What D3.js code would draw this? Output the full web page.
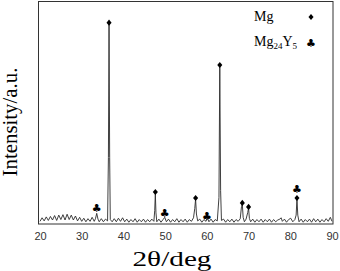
<!DOCTYPE html>
<html>
<head>
    <script src="https://d3js.org/d3.v7.min.js"></script>
    <style>
        body { margin: 0; background: #fff; }
        .tick text { font-family: Arial, "Liberation Sans"; fill: #333; }
    </style>
</head>
<body>
<div id="chart"></div>
<script>
// 2theta positions and intensities (arbitrary units)
const twoTheta = [20, 20.5, 21, 21.5, 22, 22.5, 23, 23.5, 24, 24.5, 25, 25.5, 26, 26.5, 27, 27.5, 28, 28.5, 29, 29.5,
    30, 30.5, 31, 31.5, 32, 32.5, 33, 33.3, 33.6, 33.9, 34.2, 34.7, 35.2, 35.7, 36.2, 36.4, 36.55, 36.7, 36.85,
    37.3, 37.8, 38.3, 38.8, 39.3, 39.8, 40.3, 40.8, 41.3, 41.8, 42.3, 42.8, 43.3, 43.8, 44.3, 44.8, 45.3, 45.8,
    46.3, 46.8, 47.3, 47.5, 47.65, 47.8, 48.0, 48.5, 49.0, 49.5, 49.9, 50.3, 50.8, 51.3, 51.8, 52.3, 52.8, 53.3,
    53.8, 54.3, 54.8, 55.3, 55.8, 56.3, 56.8, 57.1, 57.3, 57.5, 57.8, 58.3, 58.8, 59.3, 59.8, 60.1, 60.5, 61.0,
    61.5, 62.0, 62.5, 62.9, 63.1, 63.3, 63.5, 64.0, 64.5, 65.0, 65.5, 66.0, 66.5, 67.0, 67.5, 68.0, 68.3, 68.5,
    68.7, 69.0, 69.4, 69.8, 70.0, 70.2, 70.5, 71.0, 71.5, 72.0, 72.5, 73.0, 73.5, 74.0, 74.5, 75.0, 75.5, 76.0,
    76.5, 77.0, 77.5, 77.8, 78.1, 78.6, 79.1, 79.6, 80.1, 80.6, 81.1, 81.4, 81.6, 81.8, 82.1, 82.6, 83.1, 83.6,
    84.1, 84.6, 85.1, 85.6, 86.1, 86.6, 87.1, 87.6, 88.1, 88.6, 89.1, 89.6, 90];
const intensity = [12, 28, 14, 32, 16, 34, 18, 38, 16, 40, 20, 42, 18, 44, 20, 40, 18, 36, 14, 30,
    12, 26, 10, 24, 12, 30, 12, 24, 48, 22, 10, 24, 10, 22, 14, 300, 905, 300, 20,
    10, 24, 10, 26, 12, 28, 10, 22, 8, 20, 10, 24, 8, 20, 10, 22, 8, 20,
    10, 22, 12, 60, 138, 50, 10, 22, 8, 20, 30, 10, 22, 8, 20, 10, 24, 8,
    20, 10, 22, 8, 20, 12, 28, 70, 112, 45, 14, 22, 8, 20, 12, 28, 10, 22,
    8, 20, 14, 120, 712, 150, 16, 22, 8, 20, 10, 22, 8, 20, 12, 24, 78, 90,
    30, 10, 22, 52, 72, 25, 10, 22, 8, 20, 10, 22, 8, 20, 10, 22, 8, 20,
    10, 18, 22, 28, 12, 22, 8, 20, 26, 10, 20, 40, 112, 40, 10, 22, 8, 20,
    10, 22, 8, 24, 10, 22, 8, 20, 10, 24, 12, 30, 12];

// phase markers: peak position and marker height
const mgPeaks = [36.55, 47.65, 57.3, 63.1, 68.5, 70.0, 81.6];
const mgMarkY = [907, 144, 117, 716, 95, 77, 117];
const mg24y5Peaks = [33.6, 49.9, 60.0, 81.6];
const mg24y5MarkY = [72, 50, 36, 158];
const xTicks = [20, 30, 40, 50, 60, 70, 80, 90];

const W = 340, H = 271;
const frameL = 38.5, frameR = 333, frameT = 1.5, frameB = 224;

const svg = d3.select("#chart").append("svg")
    .attr("width", W).attr("height", H);

const x = d3.scaleLinear().domain([20, 90]).range([40, 332]);
const y = d3.scaleLinear().domain([0, 1000]).range([frameB, 2]);

const pts = twoTheta.map((t, i) => [t, intensity[i]]);

svg.append("path")
    .datum(pts)
    .attr("fill", "none")
    .attr("stroke", "#2a2a2a")
    .attr("stroke-width", 0.9)
    .attr("d", d3.line().x(d => x(d[0])).y(d => y(d[1])));

// frame
svg.append("rect")
    .attr("x", frameL).attr("y", frameT)
    .attr("width", frameR - frameL).attr("height", frameB - frameT)
    .attr("fill", "none").attr("stroke", "#333").attr("stroke-width", 1);

// x axis labels
const ax = svg.append("g")
    .attr("transform", `translate(0, ${frameB})`)
    .call(d3.axisBottom(x).tickValues(xTicks).tickSize(0).tickPadding(8));
ax.select(".domain").remove();
ax.selectAll("text").attr("font-size", 11);

// markers
const diamond = d3.symbol().type(d3.symbolSquare).size(13);
svg.selectAll(".mg")
    .data(mgPeaks)
    .enter().append("path")
    .attr("class", "mg")
    .attr("d", diamond)
    .attr("transform", (d, i) => `translate(${x(d)}, ${y(mgMarkY[i])}) scale(1, 1.2) rotate(45)`)
    .attr("fill", "#000");

svg.selectAll(".club")
    .data(mg24y5Peaks)
    .enter().append("text")
    .attr("class", "club")
    .attr("x", d => x(d))
    .attr("y", (d, i) => y(mg24y5MarkY[i]) + 4)
    .attr("text-anchor", "middle")
    .attr("font-family", "DejaVu Sans")
    .attr("font-size", 11)
    .text("\u2663");

// legend
const serif = "'Liberation Serif', 'Times New Roman', serif";
svg.append("text")
    .attr("x", 254).attr("y", 20.5)
    .attr("font-family", serif).attr("font-size", 14)
    .text("Mg");
const l2 = svg.append("text")
    .attr("x", 254).attr("y", 46)
    .attr("font-family", serif).attr("font-size", 14);
l2.append("tspan").text("Mg");
l2.append("tspan").attr("font-size", 9).attr("dy", 3).text("24");
l2.append("tspan").attr("dy", -3).text("Y");
l2.append("tspan").attr("font-size", 9).attr("dy", 3).text("5");

svg.append("path")
    .attr("d", diamond)
    .attr("transform", "translate(311, 17) scale(1, 1.2) rotate(45)");
svg.append("text")
    .attr("x", 311).attr("y", 47)
    .attr("text-anchor", "middle")
    .attr("font-family", "DejaVu Sans").attr("font-size", 11)
    .text("\u2663");

// axis titles
svg.append("text")
    .attr("x", 172).attr("y", 266)
    .attr("text-anchor", "middle")
    .attr("font-family", serif).attr("font-size", 21)
    .attr("textLength", 79).attr("lengthAdjust", "spacingAndGlyphs")
    .text("2\u03b8/deg");

svg.append("text")
    .attr("transform", "translate(17, 122) rotate(-90)")
    .attr("text-anchor", "middle")
    .attr("font-family", serif).attr("font-size", 20)
    .attr("textLength", 109).attr("lengthAdjust", "spacingAndGlyphs")
    .text("Intensity/a.u.");
</script>
</body>
</html>
